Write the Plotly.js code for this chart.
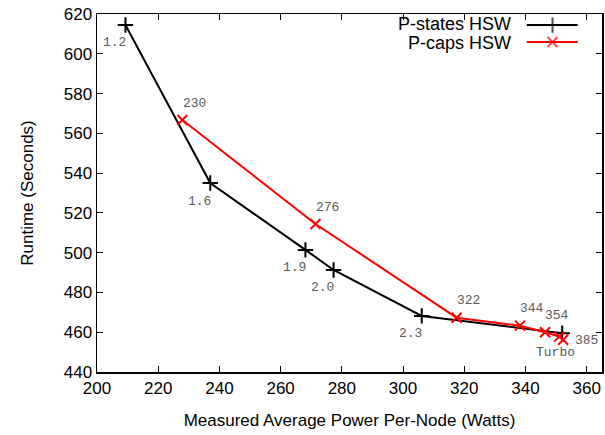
<!DOCTYPE html>
<html>
<head>
<meta charset="utf-8">
<script src="https://cdn.plot.ly/plotly-3.0.1.min.js"></script>
<style>html,body{margin:0;padding:0;background:#fff;}#chart{width:605px;height:435px;}</style>
</head>
<body>
<div id="chart"></div>
<script>
// P-states HSW (frequency steps, GHz)
const pstatesName = 'P-states HSW';
const pstatesPower = [209.3, 237.0, 268.1, 277.3, 306.1, 352.0];
const pstatesRuntime = [614.5, 535.0, 501.4, 491.3, 468.2, 459.5];
const pstatesLabels = ['1.2', '1.6', '1.9', '2.0', '2.3', 'Turbo'];

// P-caps HSW (power caps, Watts)
const pcapsName = 'P-caps HSW';
const pcapsPower = [227.9, 271.4, 317.5, 338.2, 346.4, 351.0, 352.3];
const pcapsRuntime = [566.7, 514.4, 467.3, 463.3, 460.0, 457.8, 456.2];
const pcapsLabels = ['230', '276', '322', '344', '354', '', '385'];

const xTicks = [200, 220, 240, 260, 280, 300, 320, 340, 360];
const yTicks = [440, 460, 480, 500, 520, 540, 560, 580, 600, 620];

const labelFont = {family: 'Liberation Mono, Courier New, monospace', size: 13, color: '#5a5a5a'};
const axisFont = {family: 'Liberation Sans, Arial, Helvetica, sans-serif', size: 17, color: '#000'};
const legendFont = {family: 'Liberation Sans, Arial, Helvetica, sans-serif', size: 18, color: '#000'};

const traces = [
  {
    x: pstatesPower, y: pstatesRuntime, name: pstatesName, type: 'scatter', mode: 'lines+markers',
    line: {color: '#000000', width: 2},
    marker: {symbol: 'cross-thin-open', size: 11, color: '#000000', line: {color: '#000000', width: 2}},
    showlegend: false
  },
  {
    x: pcapsPower, y: pcapsRuntime, name: pcapsName, type: 'scatter', mode: 'lines+markers',
    line: {color: '#ff0000', width: 2},
    marker: {symbol: 'x-thin-open', size: 10, color: '#ff0000', line: {color: '#ff0000', width: 2}},
    showlegend: false
  },
  // legend keys (drawn on a hidden overlay axis in [0,1] units)
  {
    x: [0.851, 0.902, 0.952], y: [0.969, 0.969, 0.969], xaxis: 'x2', yaxis: 'y2',
    type: 'scatter', mode: 'lines+markers', showlegend: false, hoverinfo: 'skip',
    line: {color: '#000000', width: 2},
    marker: {symbol: 'cross-thin-open', size: [0, 11, 0], color: '#000', line: {color: '#000', width: 2}}
  },
  {
    x: [0.851, 0.902, 0.952], y: [0.922, 0.922, 0.922], xaxis: 'x2', yaxis: 'y2',
    type: 'scatter', mode: 'lines+markers', showlegend: false, hoverinfo: 'skip',
    line: {color: '#ff0000', width: 2},
    marker: {symbol: 'x-thin-open', size: [0, 10, 0], color: '#f00', line: {color: '#f00', width: 2}}
  }
];

const annotations = [];
pstatesLabels.forEach((t, i) => {
  if (!t) return;
  const turbo = t === 'Turbo';
  annotations.push({
    x: pstatesPower[i], y: pstatesRuntime[i], text: t, showarrow: false,
    xshift: turbo ? -7 : -11, yshift: turbo ? -19 : -18, font: labelFont
  });
});
pcapsLabels.forEach((t, i) => {
  if (!t) return;
  const last = i === pcapsLabels.length - 1;
  annotations.push({
    x: pcapsPower[i], y: pcapsRuntime[i], text: t, showarrow: false,
    xshift: last ? 23 : 12, yshift: last ? -1 : 17, font: labelFont
  });
});
// legend text
annotations.push({xref: 'paper', yref: 'paper', x: 0.822, y: 0.972, xanchor: 'right', yanchor: 'middle',
  text: pstatesName, showarrow: false, font: legendFont, borderpad: 0});
annotations.push({xref: 'paper', yref: 'paper', x: 0.822, y: 0.919, xanchor: 'right', yanchor: 'middle',
  text: pcapsName, showarrow: false, font: legendFont, borderpad: 0});

const layout = {
  width: 605, height: 435,
  margin: {l: 97, r: 3, t: 14, b: 63, pad: 0},
  paper_bgcolor: '#fff', plot_bgcolor: '#fff',
  font: axisFont,
  xaxis: {
    range: [200, 365], tickvals: xTicks, ticktext: xTicks.map(String),
    ticks: 'inside', ticklen: 6, tickwidth: 1, tickcolor: '#000',
    showline: true, linecolor: '#000', linewidth: 1.5, mirror: 'ticks',
    showgrid: false, zeroline: false, tickfont: axisFont,
    title: {text: 'Measured Average Power Per-Node (Watts)', font: axisFont, standoff: 17}
  },
  yaxis: {
    range: [440, 620], tickvals: yTicks, ticktext: yTicks.map(String),
    ticks: 'inside', ticklen: 6, tickwidth: 1, tickcolor: '#000',
    showline: true, linecolor: '#000', linewidth: 1.5, mirror: 'ticks',
    showgrid: false, zeroline: false, tickfont: axisFont,
    title: {text: 'Runtime (Seconds)', font: axisFont, standoff: 26}
  },
  xaxis2: {overlaying: 'x', range: [0, 1], visible: false, fixedrange: true},
  yaxis2: {overlaying: 'y', range: [0, 1], visible: false, fixedrange: true},
  showlegend: false,
  annotations: annotations
};

Plotly.newPlot('chart', traces, layout, {displayModeBar: false, staticPlot: true});
</script>
</body>
</html>
